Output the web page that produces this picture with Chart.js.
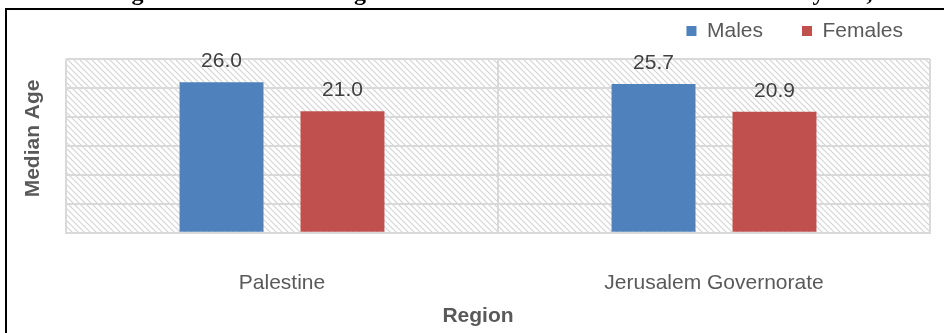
<!DOCTYPE html>
<html><head><meta charset="utf-8">
<script src="https://cdn.jsdelivr.net/npm/chart.js@4/dist/chart.umd.min.js"></script>
<style>
html,body{margin:0;padding:0;background:#fff;overflow:hidden;width:944px;height:333px;}
#wrap{position:absolute;left:0;top:-14px;width:944px;height:347px;}
</style></head><body>
<div id="wrap"><canvas id="c" width="944" height="347"></canvas></div>
<script>
const chartTitle = 'Median Age at the First Marriage in Palestine and Jerusalem Governorate by Sex, 2022';
const categories = ['Palestine', 'Jerusalem Governorate'];
const seriesNames = ['Males', 'Females'];
const malesValues = [26.0, 25.7];
const femalesValues = [21.0, 20.9];
const yMin = 0, yMax = 30, yStep = 5;
const xAxisTitle = 'Region';
const yAxisTitle = 'Median Age';
const seriesColors = ['#4F81BD', '#C0504D'];

const OFF = 14;
const GRID = '#d9d9d9';
const SANS = '"Liberation Sans", Arial, sans-serif';
const Y_TITLE_SHIFT = 7.5;

function makeHatch() {
  const s = 6;
  const p = document.createElement('canvas');
  p.width = s; p.height = s;
  const g = p.getContext('2d');
  g.strokeStyle = '#d2d2d2';
  g.lineWidth = 1.1;
  g.beginPath();
  g.moveTo(-1, -1); g.lineTo(s + 1, s + 1);
  g.moveTo(-1 - s, -1); g.lineTo(1, s + 1);
  g.moveTo(s - 1, -1); g.lineTo(2 * s + 1, s + 1);
  g.stroke();
  return p;
}

const hatchPlugin = {
  id: 'hatch',
  beforeDraw(chart) {
    const {ctx, chartArea: a} = chart;
    ctx.save();
    ctx.fillStyle = ctx.createPattern(makeHatch(), 'repeat');
    ctx.fillRect(a.left, a.top, a.right - a.left, a.bottom - a.top);
    ctx.restore();
    const ys = chart.scales.y;
    if (ys) { ys.top -= Y_TITLE_SHIFT; ys.bottom -= Y_TITLE_SHIFT; }
  },
  beforeDatasetsDraw(chart) {
    const ys = chart.scales.y;
    if (ys) { ys.top += Y_TITLE_SHIFT; ys.bottom += Y_TITLE_SHIFT; }
  }
};

const framePlugin = {
  id: 'frame',
  afterDraw(chart) {
    const ctx = chart.ctx;
    ctx.save();
    ctx.strokeStyle = '#000';
    ctx.lineWidth = 2;
    ctx.beginPath();
    ctx.moveTo(6, 400);
    ctx.lineTo(6, 9 + OFF);
    ctx.lineTo(944, 9 + OFF);
    ctx.stroke();
    ctx.restore();
  }
};

const valueLabels = {
  id: 'valueLabels',
  afterDatasetsDraw(chart) {
    const ctx = chart.ctx;
    ctx.save();
    ctx.font = '21px ' + SANS;
    ctx.fillStyle = '#404040';
    ctx.textAlign = 'center';
    ctx.textBaseline = 'alphabetic';
    chart.data.datasets.forEach((ds, i) => {
      chart.getDatasetMeta(i).data.forEach((el, j) => {
        ctx.fillText(Number(ds.data[j]).toFixed(1), el.x, el.y - 15);
      });
    });
    ctx.restore();
  }
};

const legendTweak = {
  id: 'legendTweak',
  afterLayout(chart) {
    const lg = chart.legend;
    if (lg) {
      const pad = lg.options.labels.padding;
      const fs = 21;
      const cur = lg.top + pad + fs / 2;
      const dy = (31 + OFF) - cur;
      const dx = 942 - lg.right;
      lg.top += dy;
      lg.left += dx; lg.right += dx;
    }
  }
};

new Chart(document.getElementById('c'), {
  type: 'bar',
  data: {
    labels: categories,
    datasets: [
      { label: seriesNames[0], data: malesValues, backgroundColor: seriesColors[0], borderWidth: 0,
        categoryPercentage: 0.56, barPercentage: 0.694 },
      { label: seriesNames[1], data: femalesValues, backgroundColor: seriesColors[1], borderWidth: 0,
        categoryPercentage: 0.56, barPercentage: 0.694 }
    ]
  },
  options: {
    responsive: false,
    animation: false,
    devicePixelRatio: 1,
    layout: { padding: { left: 26, right: 14, top: 0, bottom: 0 } },
    plugins: {
      title: {
        display: true, text: chartTitle, color: '#000',
        font: { family: '"Liberation Serif", "Times New Roman", serif', size: 24, weight: 'bold' },
        padding: { top: -6.5, bottom: 1 }
      },
      subtitle: {
        display: true, text: xAxisTitle, position: 'bottom', color: '#595959',
        font: { family: SANS, size: 21, weight: 'bold' },
        padding: { top: 0, bottom: 4 }
      },
      legend: {
        display: true, position: 'top', align: 'end', maxHeight: 49.7,
        labels: {
          boxWidth: 10, boxHeight: 10, padding: 39, color: '#595959',
          font: { family: SANS, size: 21 }
        }
      },
      tooltip: { enabled: false }
    },
    scales: {
      x: {
        grid: { color: GRID, lineWidth: 2, drawTicks: false },
        border: { display: true, color: GRID, width: 2 },
        ticks: { color: '#595959', padding: 38, font: { family: SANS, size: 21 } },
        afterFit(axis) { axis.height = 71; }
      },
      y: {
        min: yMin, max: yMax,
        ticks: { display: false, stepSize: yStep },
        grid: { color: GRID, lineWidth: 2, drawTicks: false },
        border: { display: false },
        title: {
          display: true, text: yAxisTitle, color: '#595959',
          font: { family: SANS, size: 21, weight: 'bold', lineHeight: 1.0 },
          padding: { top: -3.5, bottom: 0 }
        },
        afterFit(axis) { axis.width = 40; }
      }
    }
  },
  plugins: [hatchPlugin, framePlugin, valueLabels, legendTweak]
});
</script>
</body></html>
